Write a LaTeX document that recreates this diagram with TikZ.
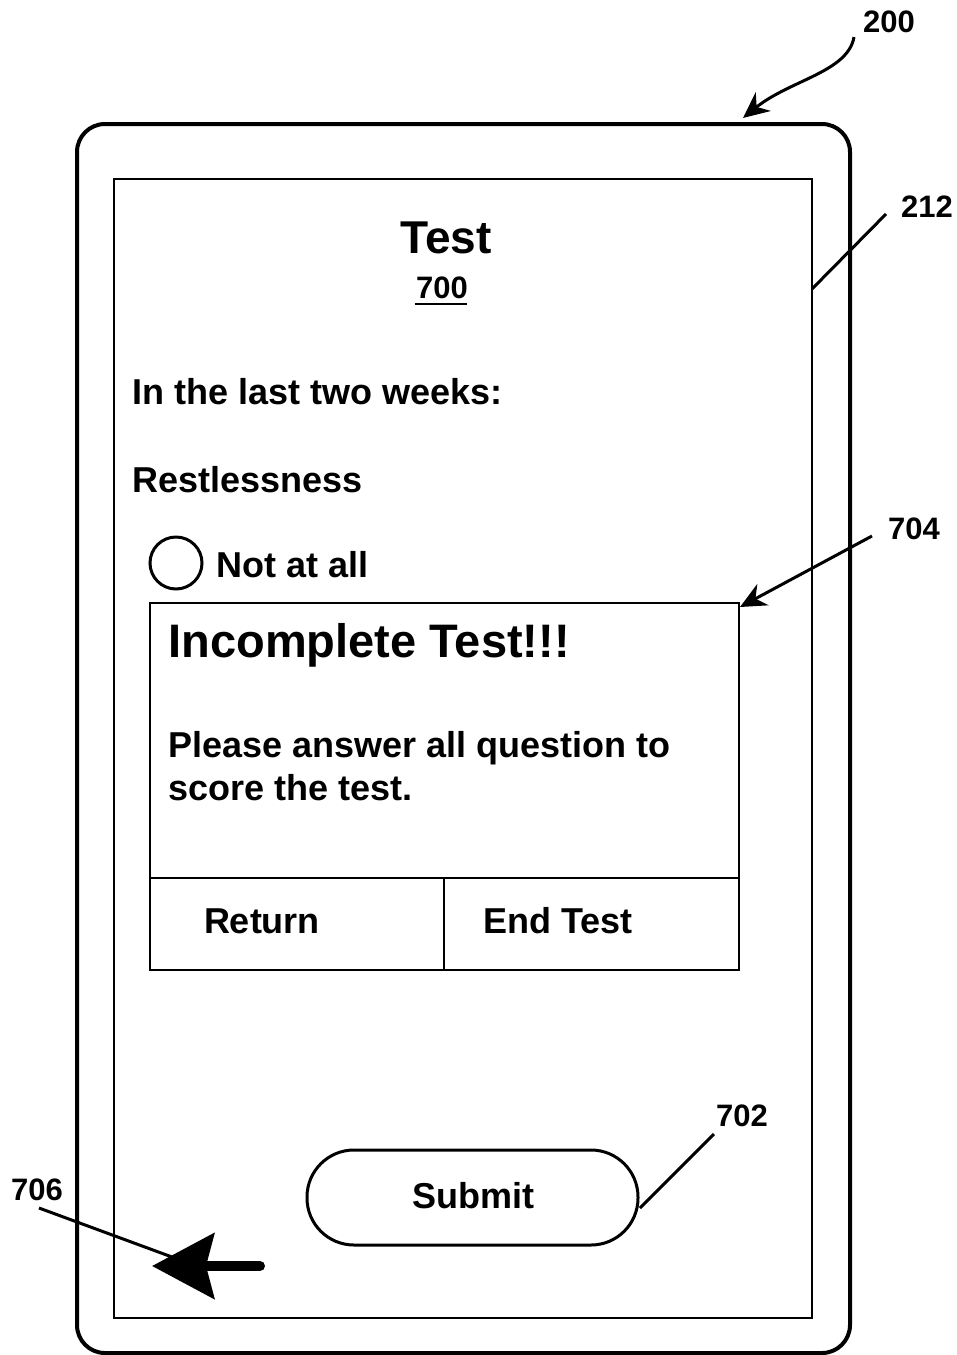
\documentclass[tikz,border=0pt]{standalone}
\usepackage{fontspec}
\setmainfont{Liberation Sans}
\usetikzlibrary{arrows.meta}

\begin{document}
\begin{tikzpicture}[x=1pt,y=-1pt,>={Stealth[length=26pt,width=24pt]},
    line width=3pt,
    body/.style={font=\fontsize{36}{43}\selectfont\bfseries,inner sep=0pt,anchor=base west},
    ref/.style={font=\fontsize{31}{37}\selectfont\bfseries,inner sep=0pt},
    lead/.style={line width=3pt}]
    \useasboundingbox (0,0) rectangle (956,1355);
    % device and screen
    \draw[line width=4pt,rounded corners=28pt] (77,124) rectangle (850,1353);
    \draw[line width=2.5pt] (114,179) rectangle (812,1318);
    % screen content
    \node[inner sep=0pt,anchor=base,font=\fontsize{46}{54}\selectfont\bfseries] (title) at (446,253) {Test};
    \node[inner sep=0pt,anchor=base,font=\fontsize{31}{37}\selectfont\bfseries] (num) at (442,298) {700};
    \draw[line width=2.5pt] (num.south west) ++(0,4) -- ++(52,0);
    \node[body] (when) at (131,404) {In the last two weeks:};
    \node[body] (item) at (131,492) {Restlessness};
    \draw[line width=3pt] (176,563) circle (26pt);
    \node[body] (opt) at (215,577) {Not at all};
    % popup
    \draw[line width=2pt] (150,603) rectangle (739,970);
    \draw[line width=2pt] (150,878) -- (739,878) (444,878) -- (444,970);
    \node[body,font=\fontsize{47}{56}\selectfont\bfseries] (warn) at (167,657) {Incomplete Test!!!};
    \node[body] (msg1) at (167,757) {Please answer all question to};
    \node[body] (msg2) at (167,800) {score the test.};
    \node[inner sep=0pt,anchor=base,font=\fontsize{36}{43}\selectfont\bfseries] (ret) at (262,933) {Return};
    \node[inner sep=0pt,anchor=base,font=\fontsize{36}{43}\selectfont\bfseries] (end) at (558,933) {End Test};
    % submit button
    \draw[line width=3pt,rounded corners=47pt] (307,1150) rectangle (638,1245);
    \node[inner sep=0pt,font=\fontsize{36}{43}\selectfont\bfseries] (submit) at (473,1196) {Submit};
    % back arrow
    \draw[line width=10pt,line cap=round,-{Stealth[length=62pt,width=65pt,inset=8pt]}] (260,1266) -- (152,1266);
    % reference numerals
    \node[ref] (l200) at (889,22) {200};
    \node[ref] (l212) at (927,207) {212};
    \node[ref] (l704) at (914,529) {704};
    \node[ref] (l702) at (742,1116) {702};
    \node[ref] (l706) at (37,1190) {706};
    \coordinate (c200a) at (854,37);
    \coordinate (c200b) at (743,118);
    \coordinate (c212a) at (886,214);
    \coordinate (c212b) at (812,289);
    \coordinate (c704a) at (872,536);
    \coordinate (c704b) at (740,607);
    \coordinate (c702a) at (714,1134);
    \coordinate (c702b) at (640,1208);
    \coordinate (c706a) at (39,1208);
    \coordinate (c706b) at (172,1257);
    \draw[lead,->] (c200a) .. controls (848,72) and (790,80) .. (c200b);
    \draw[lead] (c212a) -- (c212b);
    \draw[lead,->] (c704a) -- (c704b);
    \draw[lead] (c702a) -- (c702b);
    \draw[lead] (c706a) -- (c706b);
\end{tikzpicture}
\end{document}
